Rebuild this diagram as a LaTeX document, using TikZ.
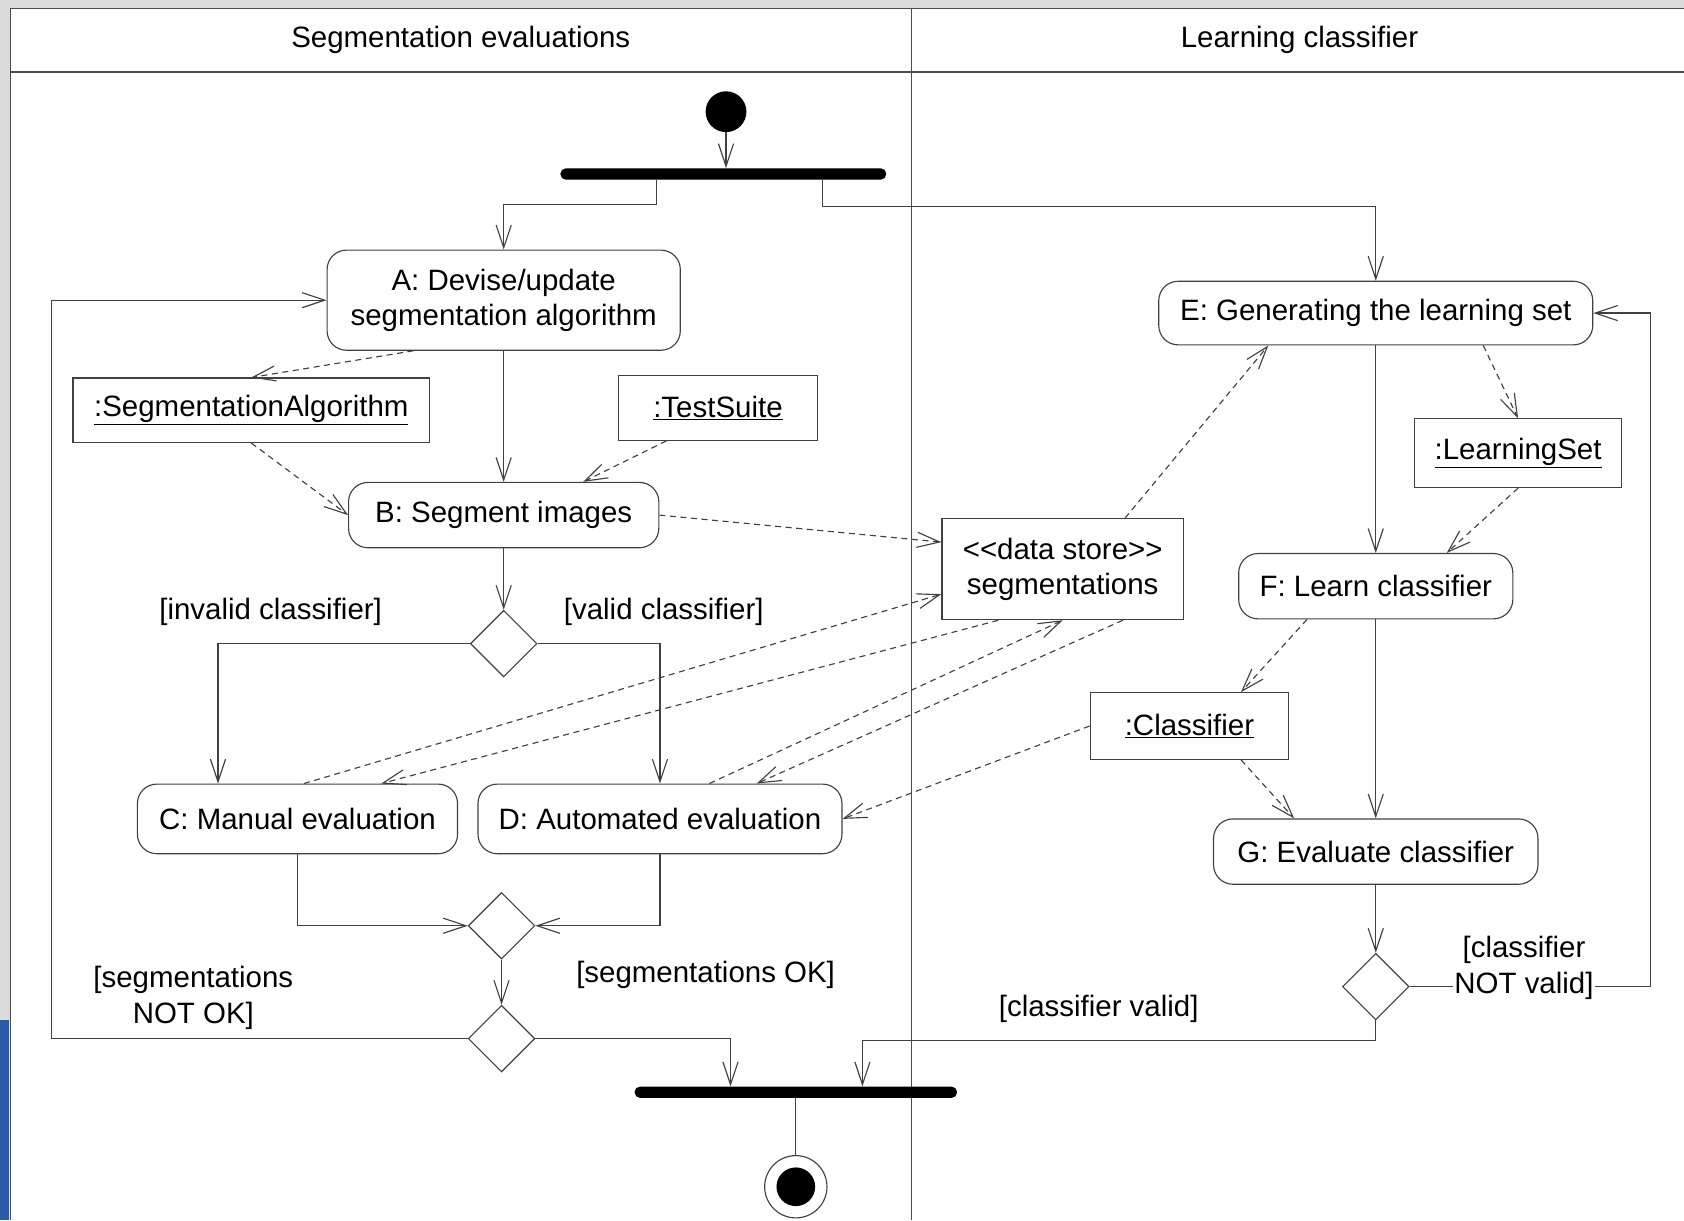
\documentclass[tikz,border=0pt]{standalone}
\usepackage{fontspec}
\setmainfont{Liberation Sans}
\usetikzlibrary{positioning, arrows.meta, calc, shapes.geometric}

\definecolor{slideblue}{RGB}{42,92,165}

\newcommand{\dsopen}{<\kern0pt<}
\newcommand{\dsclose}{>\kern0pt>}

\begin{document}
\begin{tikzpicture}[x=0.025cm, y=-0.025cm]
	% Define styles
	\tikzset{
		every node/.style={font=\fontsize{19.5}{23.5}\selectfont},
		action/.style={rectangle, rounded corners=0.45cm, draw=black!75, line width=0.75pt, align=center, inner sep=2pt},
		object/.style={rectangle, draw=black!75, line width=0.75pt, align=center, inner sep=2pt},
		choice/.style={diamond, draw=black!75, line width=0.75pt, minimum width=1.55cm, minimum height=1.55cm, inner sep=0pt},
		bar/.style={rectangle, rounded corners=0.12cm, fill=black, inner sep=0pt, minimum height=0.26cm},
		flow/.style={draw=black!75, line width=0.75pt, -{Straight Barb[length=15pt, width=10pt]}},
		dep/.style={flow, dash pattern=on 4pt off 3pt},
		guard/.style={align=center, inner sep=1pt},
		lane/.style={draw=black!70, line width=0.8pt}
	}
	\useasboundingbox (0,0) rectangle (1568,1136);
	
	% Swimlanes
	\fill[black!14] (0,0) rectangle (1568,8);
	\fill[black!14] (0,0) rectangle (10,1136);
	\fill[slideblue] (0,950) rectangle (8,1136);
	\draw[lane] (1568,8) -- (10,8) -- (10,1136);
	\draw[lane] (10,67) -- (1568,67);
	\draw[lane] (849,8) -- (849,1136);
	\node (lane1) at (429,37) {Segmentation evaluations};
	\node (lane2) at (1210,37) {Learning classifier};
	
	% Nodes
	\node[circle, fill=black, minimum size=0.95cm, inner sep=0pt] (init) at (676,104) {};
	\node[bar, minimum width=7.58cm] (fork) at (673.5,162) {};
	
	\node[action, minimum width=8.22cm, minimum height=2.33cm] (a) at (469,279.5) {A: Devise/update\\segmentation algorithm};
	\node[action, minimum width=7.22cm, minimum height=1.52cm, below=3.05cm of a] (b) {B: Segment images};
	\node[choice, below=1.43cm of b] (dec1) {};
	\node[action, minimum width=7.45cm, minimum height=1.62cm] (c) at (277,762.5) {C: Manual evaluation};
	\node[action, minimum width=8.47cm, minimum height=1.62cm] (d) at (614.5,762.5) {D: Automated evaluation};
	\node[choice] (merge) at (467,862) {};
	\node[choice, below=1.05cm of merge] (dec2) {};
	
	\node[action, minimum width=10.1cm, minimum height=1.48cm] (e) at (1281,291.5) {E: Generating the learning set};
	\node[action, minimum width=6.38cm, minimum height=1.52cm, below=4.83cm of e] (f) {F: Learn classifier};
	\node[action, minimum width=7.55cm, minimum height=1.52cm, below=4.63cm of f] (g) {G: Evaluate classifier};
	\node[choice, below=1.58cm of g] (dec3) {};
	
	\node[object, minimum width=8.3cm, minimum height=1.5cm] (segalg) at (234,382) {\underline{:SegmentationAlgorithm}};
	\node[object, minimum width=4.62cm, minimum height=1.5cm] (suite) at (668.5,380) {\underline{:TestSuite}};
	\node[object, minimum width=5.62cm, minimum height=2.35cm] (store) at (989.5,530) {\dsopen data store\dsclose\\segmentations};
	\node[object, minimum width=4.82cm, minimum height=1.6cm] (lset) at (1413.5,422) {\underline{:LearningSet}};
	\node[object, minimum width=4.62cm, minimum height=1.55cm] (clf) at (1107.5,676) {\underline{:Classifier}};
	
	\node[bar, minimum width=7.5cm] (join) at (741,1017) {};
	\node[circle, draw=black!75, line width=0.75pt, minimum size=1.45cm, inner sep=0pt,
		path picture={\fill (path picture bounding box.center) circle (0.45cm);}] (final) at (741,1105) {};
	
	% Guards
	\node[guard] (g1) at (252,570) {[invalid classifier]};
	\node[guard] (g2) at (618,570) {[valid classifier]};
	\node[guard] (g3) at (180,929) {[segmentations\\NOT OK]};
	\node[guard] (g4) at (657,908) {[segmentations OK]};
	\node[guard] (g5) at (1023,939) {[classifier valid]};
	
	% Control flow
	\draw[flow] (init) -- (init |- fork.north);
	\draw[flow] ([xshift=-1.56cm]fork.south) -- ++(0,23) -| (a.north);
	\draw[flow] ([xshift=2.31cm]fork.south) -- ++(0,25) -| (e.north);
	\draw[flow] (a) -- (b);
	\draw[flow] (b) -- (dec1);
	\draw[flow] (dec1.west) -| ([xshift=-1.85cm]c.north);
	\draw[flow] (dec1.east) -| (d.north);
	\draw[flow] (c.south) |- (merge.west);
	\draw[flow] (d.south) |- (merge.east);
	\draw[flow] (merge) -- (dec2);
	\draw[flow] (dec2.west) -| ([xshift=-6.4cm]a.west) -- (a.west);
	\draw[flow] (dec2.east) -| ([xshift=-1.52cm]join.north);
	\draw[flow] (e) -- (f);
	\draw[flow] (f) -- (g);
	\draw[flow] (g) -- (dec3);
	\draw[flow] (dec3.east) -| ([xshift=1.33cm]e.east) -- (e.east);
	\draw[flow] (dec3.south) -- ++(0,19) -| ([xshift=1.55cm]join.north);
	\draw[draw=black!75, line width=0.75pt] (join) -- (final);
	\node[guard, fill=white] (g6) at (1419,901) {[classifier\\NOT valid]};
	
	% Object flow
	\draw[dep] ([xshift=-2.1cm]a.south) -- (segalg.north);
	\draw[dep] (segalg.south) -- (b.west);
	\draw[dep] ([xshift=-1.2cm]suite.south) -- ([xshift=1.85cm]b.north);
	\draw[dep] (b.east) -- ([yshift=0.63cm]store.west);
	\draw[dep] ([xshift=0.15cm]c.north) -- ([yshift=-0.58cm]store.west);
	\draw[dep] ([xshift=-1.5cm]store.south) -- ([xshift=1.95cm]c.north);
	\draw[dep] ([xshift=1.15cm]d.north) -- (store.south);
	\draw[dep] ([xshift=1.4cm]store.south) -- ([xshift=2.25cm]d.north);
	\draw[dep] ([xshift=1.45cm]store.north) -- ([xshift=-2.5cm]e.south);
	\draw[dep] ([xshift=2.5cm]e.south) -- (lset.north);
	\draw[dep] (lset.south) -- ([xshift=1.65cm]f.north);
	\draw[dep] ([xshift=-1.6cm]f.south) -- ([xshift=1.2cm]clf.north);
	\draw[dep] (clf.west) -- (d.east);
	\draw[dep] ([xshift=1.2cm]clf.south) -- ([xshift=-1.9cm]g.north);
	
\end{tikzpicture}
\end{document}
